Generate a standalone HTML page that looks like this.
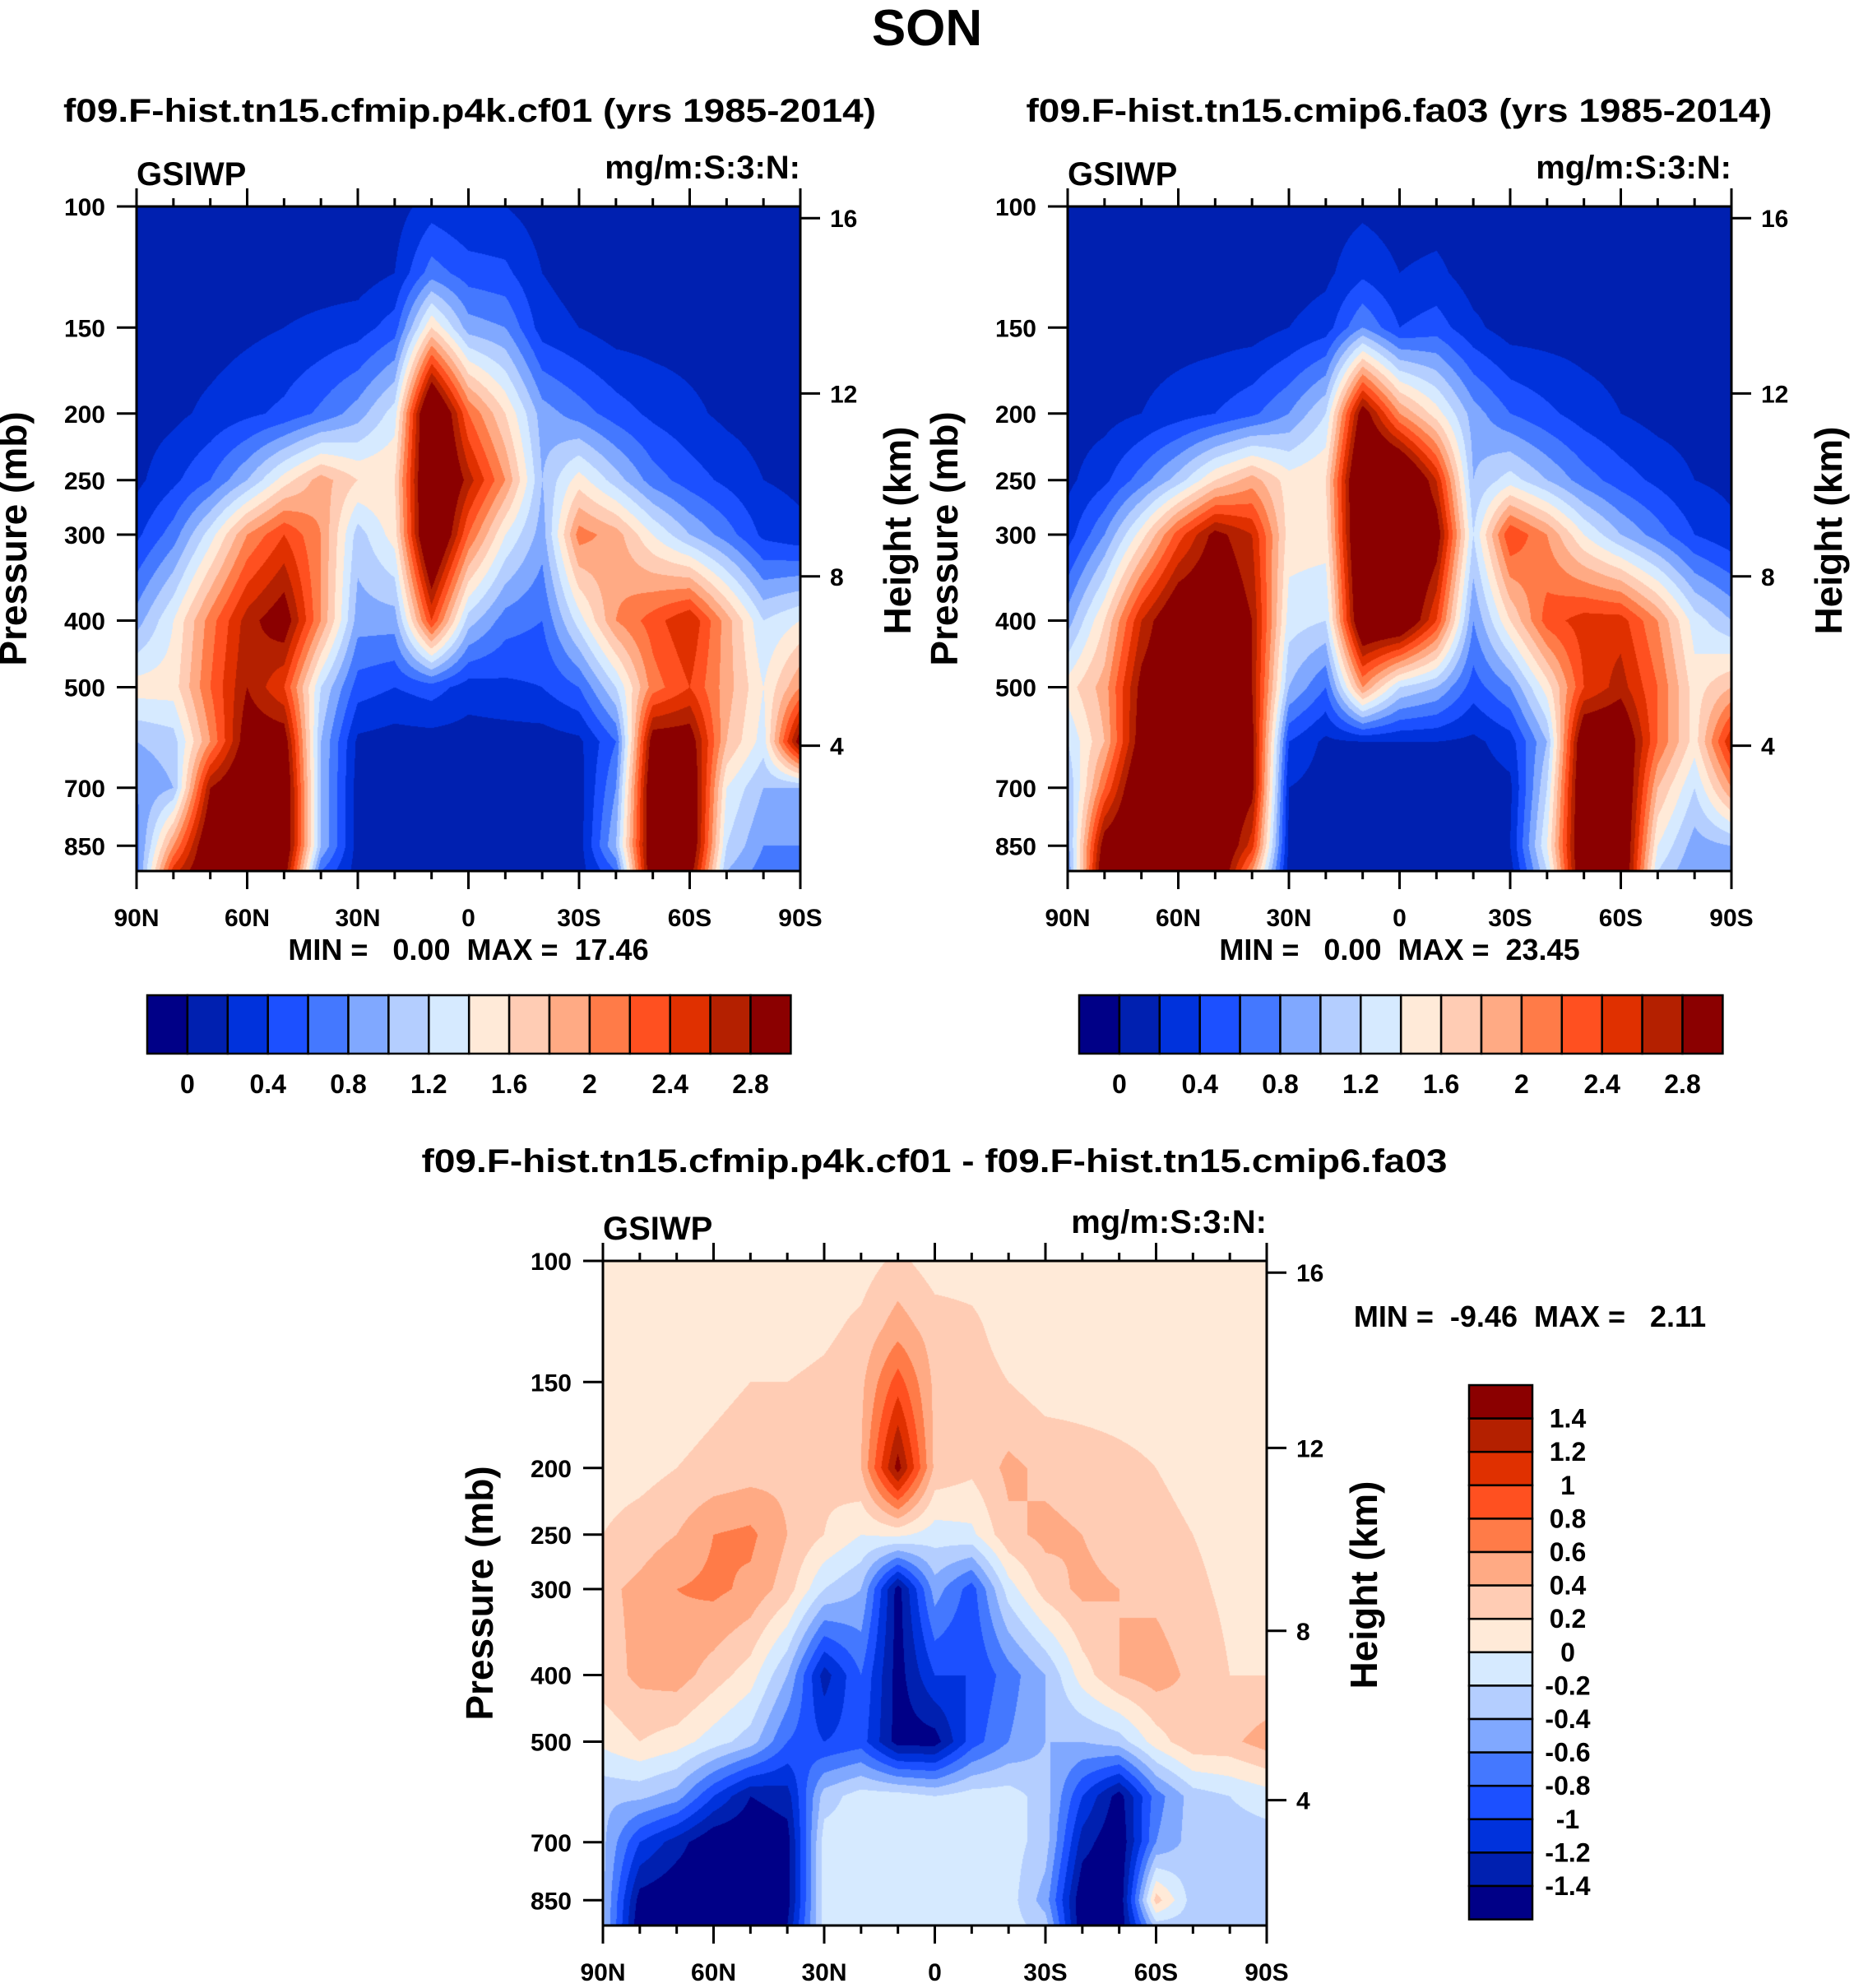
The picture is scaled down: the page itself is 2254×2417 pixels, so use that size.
<!DOCTYPE html>
<html><head><meta charset="utf-8">
<style>
body{margin:0;background:#fff;width:2254px;height:2417px;position:relative;overflow:hidden;font-family:"Liberation Sans",sans-serif}
canvas{position:absolute}
#ov{position:absolute;left:0;top:0}
text{font-family:"Liberation Sans",sans-serif;font-weight:bold;fill:#000;white-space:pre}
</style></head><body>
<canvas id="c1" style="left:166px;top:251px" width="807" height="808"></canvas>
<canvas id="c2" style="left:1298px;top:251px" width="807" height="808"></canvas>
<canvas id="c3" style="left:733px;top:1533px" width="807" height="808"></canvas>
<svg id="ov" width="2254" height="2417"></svg>
<script>
const lats=[90,80,70,60,50,40,30,20,10,0,-10,-20,-30,-40,-50,-60,-70,-80,-90];
const levels=[100,125,150,200,250,300,400,500,600,700,850,925];
const pTicks=[100,150,200,250,300,400,500,700,850];
const hTicks=[16,12,8,4];
const hTickP=[104,187,345,608];
const xTickLabels=['90N','60N','30N','0','30S','60S','90S'];
const seqLabels=['0','0.4','0.8','1.2','1.6','2','2.4','2.8'];
const diffLabels=['1.4','1.2','1','0.8','0.6','0.4','0.2','0','-0.2','-0.4','-0.6','-0.8','-1','-1.2','-1.4'];
const colors=['#000087','#0020B0','#0032DC','#1C50FF','#4478FF','#80A8FF','#B4CEFF','#D6EAFF','#FFEAD8','#FFCCB4','#FFAA84','#FF7B48','#FF5020','#E03000','#B42000','#8B0000'];
const p4k=[
[.1,.1,.1,.1,.1,.1,.1,.1,.3,.2,.2,.1,.1,.1,.1,.1,.1,.1,.1],
[.1,.1,.1,.1,.1,.1,.1,.2,.7,.5,.45,.2,.1,.1,.1,.1,.1,.1,.1],
[.1,.1,.1,.15,.2,.25,.3,.5,1.6,.9,.8,.3,.2,.1,.1,.1,.1,.1,.1],
[.1,.15,.25,.35,.45,.65,.9,1.3,3.5,2.2,1.6,.9,.7,.5,.35,.25,.15,.1,.1],
[.15,.35,.6,1.0,1.5,1.9,1.6,1.6,3.5,2.7,2.0,1.0,1.5,1.1,.7,.5,.35,.2,.15],
[.35,.7,1.3,2.0,2.4,2.0,1.1,1.5,3.5,2.2,1.4,.9,2.1,1.9,1.4,1.0,.7,.35,.25],
[.9,1.4,2.1,2.7,3.0,2.0,.9,.9,2.4,1.1,.7,.6,1.3,2.0,2.3,2.6,1.9,1.2,1.4],
[1.5,1.5,2.2,2.8,2.4,1.2,.5,.4,.5,.3,.35,.4,.6,1.2,2.1,2.4,1.9,1.4,2.0],
[1.0,1.1,2.0,3.0,3.0,1.0,.15,.1,.1,.1,.1,.1,.15,.6,3.0,3.0,1.8,1.3,3.0],
[.8,1.0,2.8,3.2,3.2,1.0,.1,.1,.1,.1,.1,.1,.1,.8,3.2,3.2,1.4,1.0,1.0],
[.7,2.0,3.2,3.2,3.2,1.0,.1,.1,.1,.1,.1,.1,.1,1.0,3.2,3.2,1.2,.8,.8],
[.7,2.5,3.2,3.2,3.0,.6,.1,.1,.1,.1,.1,.1,.1,.6,3.2,3.0,1.0,.7,.7]];
const ctl=[
[.1,.1,.1,.1,.1,.1,.1,.1,.15,.1,.1,.1,.1,.1,.1,.1,.1,.1,.1],
[.1,.1,.1,.1,.1,.1,.1,.15,.35,.2,.25,.1,.1,.1,.1,.1,.1,.1,.1],
[.1,.1,.1,.1,.1,.1,.2,.3,.8,.4,.5,.25,.1,.1,.1,.1,.1,.1,.1],
[.1,.12,.2,.3,.4,.55,.8,1.2,3.0,2.0,1.5,.9,.6,.45,.3,.2,.12,.1,.1],
[.15,.35,.7,1.1,1.6,1.9,1.5,1.6,3.5,3.5,2.6,1.0,1.3,1.0,.7,.5,.35,.2,.15],
[.3,.8,1.5,2.3,2.9,2.6,1.5,1.5,3.5,3.5,3.0,1.2,2.4,2.0,1.4,1.0,.7,.4,.25],
[.9,1.6,2.6,3.2,3.2,2.8,1.3,1.2,3.3,3.3,2.4,.8,1.6,2.3,2.5,2.5,2.0,1.3,1.0],
[1.5,1.9,2.9,3.2,3.2,2.8,1.0,.6,2.0,1.2,1.0,.5,.8,1.5,2.4,2.7,2.2,1.5,1.8],
[1.2,1.8,3.0,3.3,3.3,2.9,.4,.15,.2,.2,.2,.15,.3,1.0,3.2,3.2,2.2,1.5,2.6],
[1.0,2.2,3.3,3.3,3.3,2.9,.2,.1,.1,.1,.1,.1,.15,1.2,3.3,3.3,1.8,1.2,2.0],
[.9,3.0,3.3,3.3,3.3,2.5,.15,.1,.1,.1,.1,.1,.2,1.4,3.3,3.3,1.4,.9,1.0],
[.8,3.2,3.3,3.3,3.3,2.0,.1,.1,.1,.1,.1,.1,.1,1.2,3.3,3.3,1.2,.8,.8]];
const diff=[
[.1,.1,.1,.1,.1,.1,.1,.1,.25,.1,.1,.1,.1,.1,.1,.1,.1,.1,.1],
[.1,.1,.1,.1,.1,.1,.15,.25,.5,.3,.25,.1,.1,.1,.1,.1,.1,.1,.1],
[.1,.1,.1,.15,.2,.2,.25,.35,.9,.35,.3,.2,.1,.1,.1,.1,.1,.1,.1],
[.1,.12,.2,.25,.3,.35,.25,.4,1.5,.35,.25,.45,.35,.3,.25,.2,.15,.1,.1],
[.2,.3,.4,.6,.65,.4,.2,.0,.05,-.1,-.05,.35,.45,.4,.3,.25,.2,.12,.1],
[.35,.45,.6,.65,.55,.3,-.2,-.4,-1.5,-.5,-.9,-.1,.3,.45,.4,.35,.25,.15,.1],
[.3,.45,.5,.3,.1,-.4,-1.3,-.8,-1.5,-1.0,-1.0,-.7,-.4,.1,.4,.5,.35,.2,.2],
[.05,.2,.1,-.1,-.3,-.8,-1.0,-.9,-1.5,-1.5,-.9,-.6,-.4,-.4,-.3,.1,.35,.35,.5],
[-.35,-.35,-.5,-1.0,-1.4,-1.3,-.3,-.1,-.1,-.2,-.1,-.1,-.3,-1.0,-1.5,-.7,-.3,-.2,-.1],
[-.35,-1.0,-1.3,-1.6,-1.6,-1.5,-.1,-.1,-.1,-.1,-.1,-.1,-.3,-1.3,-1.6,-.6,-.3,-.3,-.3],
[-.35,-1.5,-1.6,-1.6,-1.6,-1.5,-.1,-.1,-.1,-.1,-.1,-.1,-.5,-1.6,-1.6,.3,-.3,-.3,-.3],
[-.35,-1.6,-1.6,-1.6,-1.6,-1.4,-.1,-.1,-.1,-.1,-.1,-.1,-.3,-1.6,-1.6,-.3,-.3,-.3,-.3]];

const W=807,H=808,PB=925;
function xOf(lat){return (90-lat)/180*W;}
function yOf(p){return H*Math.log(p/100)/Math.log(PB/100);}
function hex(c){return [parseInt(c.slice(1,3),16),parseInt(c.slice(3,5),16),parseInt(c.slice(5,7),16)];}
const rgb=colors.map(hex);
function idxSeq(v){return v<0?0:Math.min(15,Math.floor(v/0.2+1e-6)+1);}
function idxDiff(v){return Math.max(0,Math.min(15,Math.floor((v+1.4)/0.2+1e-6)+1));}
const lyr=levels.map(yOf);
function draw(id,grid,idxf){
  const cv=document.getElementById(id),ctx=cv.getContext('2d');
  const img=ctx.createImageData(W,H),d=img.data;
  for(let py=0;py<H;py++){
    const y=py+0.5;let r=0;while(r<levels.length-2&&y>lyr[r+1])r++;
    const ty=Math.max(0,Math.min(1,(y-lyr[r])/(lyr[r+1]-lyr[r])));
    for(let px=0;px<W;px++){
      const lat=90-(px+0.5)/W*180;
      let c=Math.min(17,Math.floor((90-lat)/10));const tx=((90-lat)-c*10)/10;
      const v=(grid[r][c]*(1-tx)+grid[r][c+1]*tx)*(1-ty)+(grid[r+1][c]*(1-tx)+grid[r+1][c+1]*tx)*ty;
      const k=rgb[idxf(v)],o=(py*W+px)*4;
      d[o]=k[0];d[o+1]=k[1];d[o+2]=k[2];d[o+3]=255;
    }
  }
  ctx.putImageData(img,0,0);
}
draw('c1',p4k,idxSeq);draw('c2',ctl,idxSeq);draw('c3',diff,idxDiff);

const svg=document.getElementById('ov');const NS='http://www.w3.org/2000/svg';
function el(tag,attrs,txt){const e=document.createElementNS(NS,tag);for(const k in attrs)e.setAttribute(k,attrs[k]);if(txt!==undefined)e.textContent=txt;svg.appendChild(e);return e;}
function T(x,y,s,size,anchor,name,extra){const e=el('text',Object.assign({x:x,y:y,'font-size':size,'text-anchor':anchor||'start'},extra||{}),s);


return e;}
T(1127,55,'SON',62,'middle','main-title');
function panel(L,Tp,title,tl,tcx,ty,minmax,pn){
  T(tcx,ty,title,40,'middle',pn+'-title',{textLength:tl,lengthAdjust:'spacingAndGlyphs'});
  T(L,Tp-26,'GSIWP',40,'start',pn+'-variable-label');
  T(L+W,Tp-34,'mg/m:S:3:N:',40,'end',pn+'-units-label');
  const fr=el('rect',{x:L,y:Tp,width:W,height:H,fill:'none',stroke:'#000','stroke-width':3});
  
  
  pTicks.forEach(p=>{const y=Tp+yOf(p);
    el('line',{x1:L-24,x2:L,y1:y,y2:y,stroke:'#000','stroke-width':3});
    T(L-38,y+11,String(p),30,'end',pn+'-pressure-tick-label');});
  hTicks.forEach((h,i)=>{const y=Tp+yOf(hTickP[i]);
    el('line',{x1:L+W,x2:L+W+24,y1:y,y2:y,stroke:'#000','stroke-width':3});
    T(L+W+36,y+11,String(h),30,'start',pn+'-height-tick-label');});
  for(let lat=90;lat>=-90;lat-=10){const x=L+xOf(lat);const maj=lat%30===0;const len=maj?22:10;
    el('line',{x1:x,x2:x,y1:Tp,y2:Tp-len,stroke:'#000','stroke-width':3});
    el('line',{x1:x,x2:x,y1:Tp+H,y2:Tp+H+len,stroke:'#000','stroke-width':3});}
  xTickLabels.forEach((s,i)=>T(L+i*W/6,Tp+H+67,s,30,'middle',pn+'-lat-tick-label'));
  const px=L-134;const pt=T(px,Tp+H/2,'Pressure (mb)',46,'middle',pn+'-y-axis-title');pt.setAttribute('transform','rotate(-90 '+px+' '+(Tp+H/2)+')');
  const hx=L+W+134;const ht=T(hx,Tp+H/2-10,'Height (km)',46,'middle',pn+'-right-axis-title');ht.setAttribute('transform','rotate(-90 '+hx+' '+(Tp+H/2-10)+')');
  if(minmax)T(L+W/2,Tp+H+108,minmax,36,'middle',pn+'-min-max');
}
panel(166,251,'f09.F-hist.tn15.cfmip.p4k.cf01 (yrs 1985-2014)',988,571,148,'MIN =   0.00  MAX =  17.46','panel1');
panel(1298,251,'f09.F-hist.tn15.cmip6.fa03 (yrs 1985-2014)',907,1701,148,'MIN =   0.00  MAX =  23.45','panel2');
panel(733,1533,'f09.F-hist.tn15.cfmip.p4k.cf01 - f09.F-hist.tn15.cmip6.fa03',1247,1136,1425,null,'panel3');
T(1860,1613,'MIN =  -9.46  MAX =   2.11',36,'middle','panel3-min-max');
function hbar(x0,name){const bw=48.9;
  colors.forEach((c,i)=>{const r=el('rect',{x:x0+i*bw,y:1210,width:bw,height:71,fill:c,stroke:'#000','stroke-width':2.5});
  
  });
  seqLabels.forEach((s,i)=>T(x0+(2*i+1)*bw,1329,s,32,'middle',name+'-label'));}
hbar(179,'colorbar1');hbar(1312,'colorbar2');
const bh=40.6;
colors.slice().reverse().forEach((c,i)=>{const r=el('rect',{x:1786,y:1684+i*bh,width:77,height:bh,fill:c,stroke:'#000','stroke-width':2.5});

});
diffLabels.forEach((s,i)=>T(1906,1684+(i+1)*bh+11,s,32,'middle','colorbar3-label'));
</script>
</body></html>
